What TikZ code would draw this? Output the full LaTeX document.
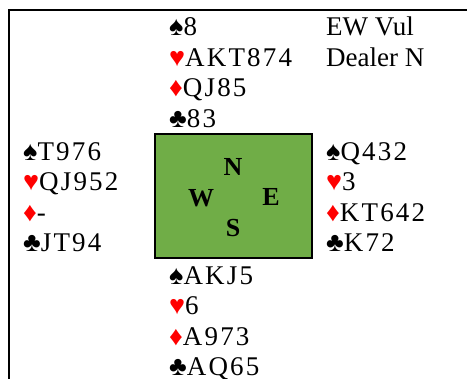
\documentclass[tikz,border=0pt]{standalone}
\usepackage{fontspec}
\setmainfont{Liberation Serif}
\newfontfamily\handfont[LetterSpace=8]{Liberation Serif}
\definecolor{boardgreen}{HTML}{70AD47}
\newcommand\spd{{\color{black}♠}}
\newcommand\hrt{{\color{red}♥}}
\newcommand\dmd{{\color{red}♦}}
\newcommand\clb{{\color{black}♣}}
\tikzset{
  hand/.style={anchor=base west, inner sep=0pt, font=\handfont\fontsize{27}{30}\selectfont},
  info/.style={anchor=base west, inner sep=0pt, font=\fontsize{27}{30}\selectfont},
  dir/.style={anchor=base, inner sep=0pt, font=\bfseries\fontsize{26}{28}\selectfont},
  board/.style={draw, line width=2.3pt, fill=boardgreen, minimum width=156.9pt, minimum height=124.4pt, inner sep=0pt},
  frame/.style={line width=2pt}
}
\begin{document}
\begin{tikzpicture}[x=1pt,y=-1pt]
\useasboundingbox (0,0) rectangle (467,379);
\coordinate (fb) at (9,379);
\coordinate (fc) at (9,10);
\coordinate (fr) at (467,10);
\draw[frame] (fb) -- (fc) -- (fr);
% board
\node[board] (bd) at (233.75,196) {};
\node[dir] (dn) at (233,176) {N};
\node[dir] (dw) at (201,206.5) {W};
\node[dir] (de) at (271,206) {E};
\node[dir] (ds) at (233,236.5) {S};
% North
\node[hand] (n1) at (169,36) {\spd8};
\node[hand] (n2) at (169,66.5) {\hrt AKT874};
\node[hand] (n3) at (169,97) {\dmd QJ85};
\node[hand] (n4) at (169,127.5) {\clb 83};
% info
\node[info] (i1) at (326,36) {EW Vul};
\node[info] (i2) at (326,66.5) {Dealer N};
% West
\node[hand] (w1) at (23,160.7) {\spd T976};
\node[hand] (w2) at (23,191) {\hrt QJ952};
\node[hand] (w3) at (23,221.5) {\dmd -};
\node[hand] (w4) at (23,251.7) {\clb JT94};
% East
\node[hand] (e1) at (326,160.7) {\spd Q432};
\node[hand] (e2) at (326,191) {\hrt 3};
\node[hand] (e3) at (326,221.5) {\dmd KT642};
\node[hand] (e4) at (326,251.7) {\clb K72};
% South
\node[hand] (s1) at (169,284.5) {\spd AKJ5};
\node[hand] (s2) at (169,315) {\hrt 6};
\node[hand] (s3) at (169,345.5) {\dmd A973};
\node[hand] (s4) at (169,376) {\clb AQ65};
\end{tikzpicture}
\end{document}
